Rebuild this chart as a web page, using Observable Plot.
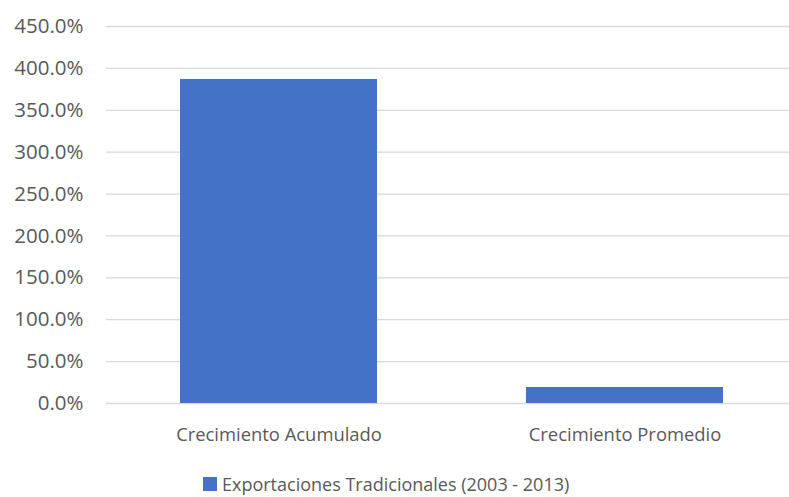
<!DOCTYPE html>
<html>
<head>
<meta charset="utf-8">
<script src="https://cdn.jsdelivr.net/npm/d3@7"></script>
<script src="https://cdn.jsdelivr.net/npm/@observablehq/plot@0.6"></script>
<style>
  html, body { margin: 0; padding: 0; background: #fff; overflow: hidden; }
  #wrap { position: relative; width: 789px; height: 497px; overflow: hidden; }
  #legend { position: absolute; left: 203px; top: 475px; font-family: "Open Sans", sans-serif; font-size: 18px; line-height: 18px; color: #595959; display: flex; align-items: center; white-space: nowrap; }
  #legend .sw { width: 14px; height: 14px; background: #4472C4; margin-right: 5px; }
  #chart svg text { font-family: "Open Sans", sans-serif; }
</style>
</head>
<body>
<div id="wrap"><div id="chart"></div><div id="legend"></div></div>
<script>
const categories = ["Crecimiento Acumulado", "Crecimiento Promedio"];
const values = [386.8, 19.1];
const seriesName = "Exportaciones Tradicionales (2003 - 2013)";
const yTicks = [0, 50, 100, 150, 200, 250, 300, 350, 400, 450];

const data = categories.map((c, i) => ({category: c, value: values[i]}));

const chart = Plot.plot({
  width: 789,
  height: 455,
  marginLeft: 106,
  marginRight: -9,
  marginTop: 26,
  marginBottom: 52,
  style: {fontFamily: "'Open Sans', sans-serif", fontSize: "16px", color: "#595959", background: "#fff", overflow: "hidden"},
  x: {domain: categories, paddingInner: 0.43, paddingOuter: 0.215, label: null},
  y: {domain: [0, 450], ticks: yTicks, label: null},
  marks: [
    Plot.gridY(yTicks, {stroke: "#d9d9d9", strokeOpacity: 1, strokeWidth: 1.3}),
    Plot.barY(data, {x: "category", y: "value", fill: "#4472C4"}),
    Plot.axisY({ticks: yTicks, tickSize: 0, tickPadding: 23, tickFormat: d => d.toFixed(1) + "%", fontSize: 20.5, label: null}),
    Plot.axisX({tickSize: 0, tickPadding: 24, fontSize: 18.4, label: null})
  ]
});
document.getElementById("chart").appendChild(chart);
const lg = document.getElementById("legend");
lg.innerHTML = '<div class="sw"></div><span></span>';
lg.querySelector("span").textContent = seriesName;
</script>
</body>
</html>
